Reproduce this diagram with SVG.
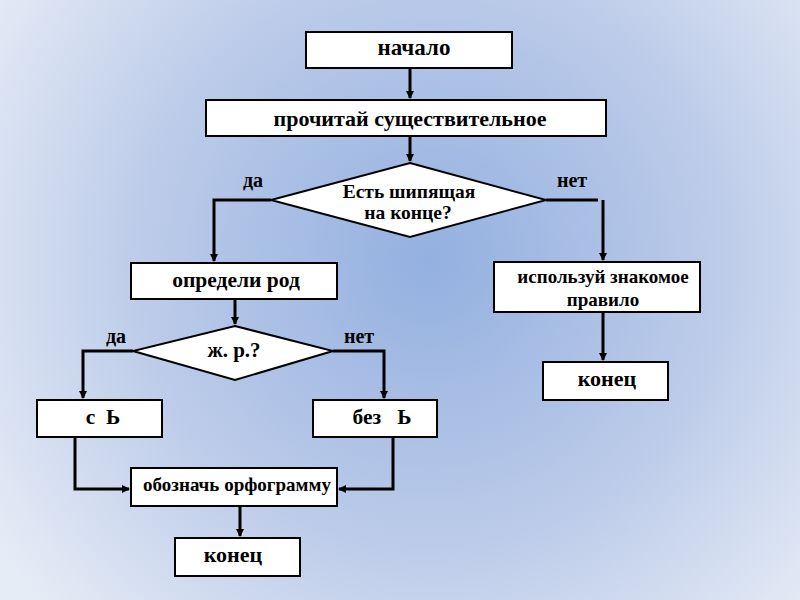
<svg xmlns="http://www.w3.org/2000/svg" width="800" height="600" viewBox="0 0 800 600">
<defs>
<radialGradient id="bg" cx="430" cy="260" r="520" gradientUnits="userSpaceOnUse">
<stop offset="0" stop-color="#93b0e0"/>
<stop offset="0.55" stop-color="#bccbe9"/>
<stop offset="1" stop-color="#e6ecf6"/>
</radialGradient>
<marker id="arr" markerWidth="8" markerHeight="8" refX="7" refY="4" orient="auto" markerUnits="userSpaceOnUse">
<path d="M0,0 L8,4 L0,8 Z" fill="#000"/>
</marker>
</defs>
<style>
.box{fill:#fff;stroke:#000;stroke-width:2}
.t{font-family:"Liberation Serif","Times New Roman",serif;font-weight:bold;fill:#000;text-anchor:middle;white-space:pre}
.c{fill:none;stroke:#000;stroke-width:3}
</style>
<rect width="800" height="600" fill="url(#bg)"/>
<g id="connectors">
<path class="c" d="M410,68 V98" marker-end="url(#arr)"/>
<path class="c" d="M410,136 V161" marker-end="url(#arr)"/>
<path class="c" d="M271,200 H214 V261" marker-end="url(#arr)"/>
<path class="c" d="M546,200 H598"/>
<path class="c" d="M603,200 V260" marker-end="url(#arr)"/>
<path class="c" d="M235,299 V324" marker-end="url(#arr)"/>
<path class="c" d="M133,351 H83 V398" marker-end="url(#arr)"/>
<path class="c" d="M333,351 H384 V398" marker-end="url(#arr)"/>
<path class="c" d="M75,437 V489 H129" marker-end="url(#arr)"/>
<path class="c" d="M393,437 V489 H339" marker-end="url(#arr)"/>
<path class="c" d="M240,506 V536" marker-end="url(#arr)"/>
<path class="c" d="M603,312 V360" marker-end="url(#arr)"/>
</g>
<g id="start"><rect class="box" x="306" y="32" width="206" height="36"/><text class="t" x="414" y="55" font-size="23">начало</text></g>
<g id="read"><rect class="box" x="206" y="100" width="400" height="36"/><text class="t" x="410" y="126" font-size="22">прочитай существительное</text></g>
<g id="dec1"><polygon class="box" points="410,163 546,200 410,237 271,200"/><text class="t" x="409" y="198" font-size="19.5">Есть шипящая</text><text class="t" x="408" y="219" font-size="19.5">на конце?</text></g>
<text class="t" x="253" y="187" font-size="20">да</text>
<text class="t" x="572" y="187" font-size="20">нет</text>
<g id="gender"><rect class="box" x="131" y="263" width="206" height="36"/><text class="t" x="236" y="287" font-size="21.5">определи род</text></g>
<g id="rule"><rect class="box" x="494" y="262" width="206" height="50"/><text class="t" x="603" y="283" font-size="19">используй знакомое</text><text class="t" x="603" y="306" font-size="19">правило</text></g>
<g id="end2"><rect class="box" x="543" y="362" width="125" height="38"/><text class="t" x="607" y="386" font-size="22">конец</text></g>
<g id="dec2"><polygon class="box" points="235,326 333,351 235,380 133,351"/><text class="t" x="234" y="357" font-size="21">ж. р.?</text></g>
<text class="t" x="116" y="343" font-size="20">да</text>
<text class="t" x="359" y="343" font-size="20">нет</text>
<g id="soft"><rect class="box" x="37" y="400" width="125" height="37"/><text class="t" x="103" y="424" font-size="21.5">с  Ь</text></g>
<g id="nosoft"><rect class="box" x="313" y="400" width="124" height="37"/><text class="t" x="382" y="424" font-size="21.5">без   Ь</text></g>
<g id="mark"><rect class="box" x="131" y="468" width="206" height="38"/><text class="t" x="237" y="491" font-size="19">обозначь орфограмму</text></g>
<g id="end1"><rect class="box" x="175" y="538" width="125" height="38"/><text class="t" x="233" y="562" font-size="22">конец</text></g>
</svg>
